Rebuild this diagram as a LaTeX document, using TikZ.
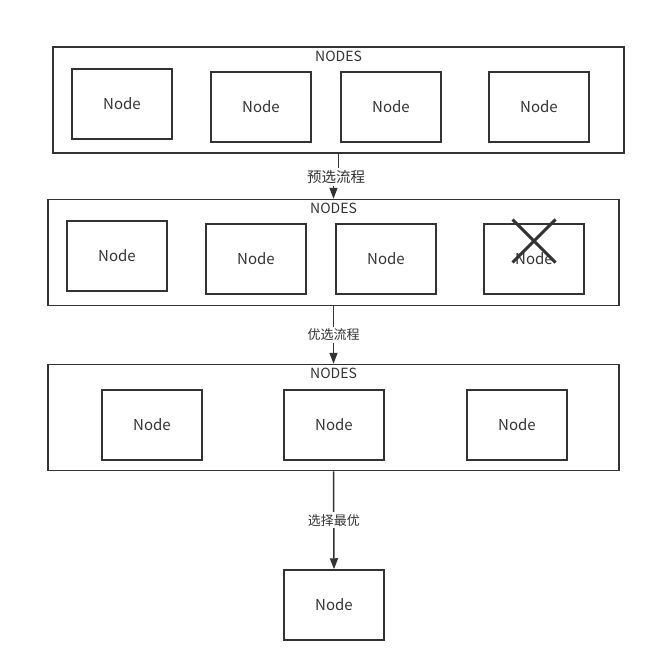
\documentclass[tikz,border=0pt]{standalone}
\usepackage{fontspec}
\setmainfont{Noto Sans CJK SC}
\usetikzlibrary{arrows.meta, shapes.misc}

\begin{document}
\begin{tikzpicture}[x=1pt, y=-1pt,
  every node/.style={text=black!80},
  frame/.style={draw=black!80, line width=1.5pt, minimum width=571pt, minimum height=106pt, inner sep=0pt},
  box/.style={draw=black!80, line width=1.5pt, minimum width=100pt, minimum height=70pt, inner sep=0pt, font=\fontsize{15}{17}\selectfont},
  title/.style={font=\fontsize{14}{16}\selectfont, inner sep=0pt},
  flow/.style={draw=black!80, line width=1.5pt, -{Triangle[length=11pt, width=8pt]}},
  lbl/.style={fill=white, inner sep=2pt, font=\fontsize{13}{15}\selectfont}]
\useasboundingbox (0,0) rectangle (656,672);
% first layer
\node[frame] (f1) at (338.5,100) {};
\node[title] (t1) at ([yshift=-10pt]f1.north) {NODES};
\node[box] (a1) at (122,104) {Node};
\node[box] (a2) at (261,107) {Node};
\node[box] (a3) at (391,107) {Node};
\node[box] (a4) at (539,107) {Node};
% second layer
\node[frame] (f2) at (333.5,252.5) {};
\node[title] (t2) at ([yshift=-10pt]f2.north) {NODES};
\node[box] (b1) at (117,256) {Node};
\node[box] (b2) at (256,259) {Node};
\node[box] (b3) at (386,259) {Node};
\node[box] (b4) at (534,259) {Node};
\node[cross out, draw=black!80, line width=3pt, minimum size=40pt, inner sep=0pt] (x4) at (534,241) {};
% third layer
\node[frame] (f3) at (333.5,417.5) {};
\node[title] (t3) at ([yshift=-10pt]f3.north) {NODES};
\node[box] (c1) at (152,425) {Node};
\node[box] (c2) at (334,425) {Node};
\node[box] (c3) at (517,425) {Node};
% result
\node[box] (d1) at (334,605) {Node};
% flows
\coordinate (m1) at (336,177);
\draw[flow] (f1.south) |- (m1) -| (f2.north);
\node[lbl, font=\fontsize{14.5}{16}\selectfont] (l1) at (m1) {预选流程};
\draw[flow] (f2.south) -- node[lbl] (l2) {优选流程} (f3.north);
\draw[flow] (f3.south) -- node[lbl] (l3) {选择最优} (d1.north);
\end{tikzpicture}
\end{document}
